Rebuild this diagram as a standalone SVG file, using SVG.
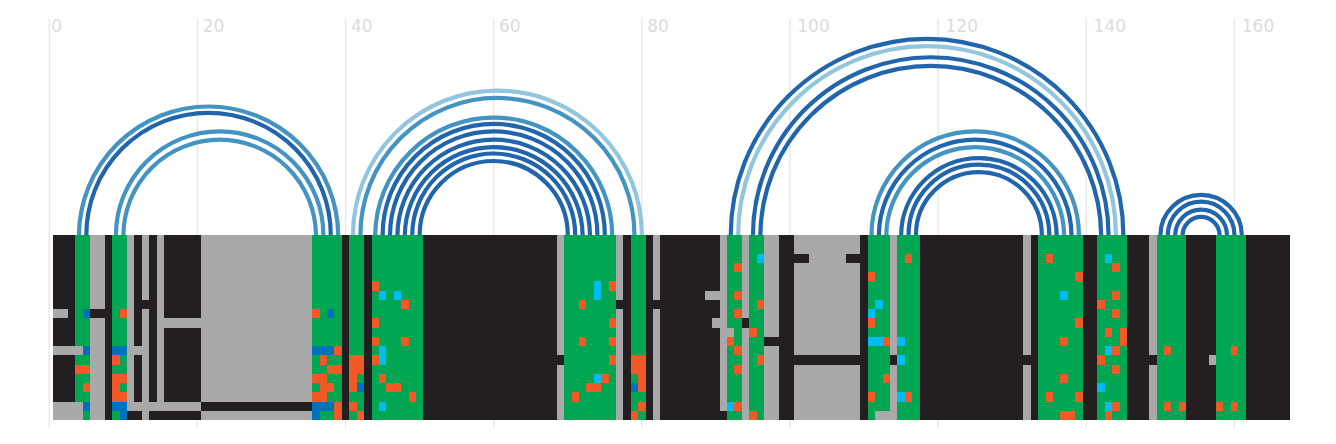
<svg xmlns="http://www.w3.org/2000/svg" width="1336" height="444" viewBox="0 0 1336 444">
<style>
.grid{stroke:#e6e6e6;stroke-width:1.3}
.lbl{font-family:"DejaVu Sans",sans-serif;font-size:17px;fill:#dcdcdc}
.arc{fill:none;stroke-width:4.2}
.d{stroke:#2166ac}.m{stroke:#4393c3}.l{stroke:#92c5de}
.k{fill:#231f20}.g{fill:#a9a9a9}.n{fill:#00a651}.o{fill:#f15a24}.b{fill:#0071bc}.c{fill:#00bcf2}
</style>
<rect width="1336" height="444" fill="#ffffff"/>
<g id="axis">
<line class="grid" x1="49.3" y1="19" x2="49.3" y2="428"/>
<line class="grid" x1="197.44" y1="19" x2="197.44" y2="428"/>
<line class="grid" x1="345.58" y1="19" x2="345.58" y2="428"/>
<line class="grid" x1="493.73" y1="19" x2="493.73" y2="428"/>
<line class="grid" x1="641.87" y1="19" x2="641.87" y2="428"/>
<line class="grid" x1="790.01" y1="19" x2="790.01" y2="428"/>
<line class="grid" x1="938.16" y1="19" x2="938.16" y2="428"/>
<line class="grid" x1="1086.3" y1="19" x2="1086.3" y2="428"/>
<line class="grid" x1="1234.45" y1="19" x2="1234.45" y2="428"/>
<text class="lbl" x="51.3" y="32.3">0</text>
<text class="lbl" x="202.7" y="32.3">20</text>
<text class="lbl" x="350.9" y="32.3">40</text>
<text class="lbl" x="499" y="32.3">60</text>
<text class="lbl" x="647.2" y="32.3">80</text>
<text class="lbl" x="797.3" y="32.3">100</text>
<text class="lbl" x="945.5" y="32.3">120</text>
<text class="lbl" x="1093.6" y="32.3">140</text>
<text class="lbl" x="1241.8" y="32.3">160</text>
</g>
<g id="matrix" transform="translate(53 235) scale(7.40719 9.25)" shape-rendering="crispEdges">
<rect class="k" x="0" y="0" width="167" height="20"/>
<rect class="n" x="3" y="0" width="2" height="20"/>
<rect class="n" x="8" y="0" width="2" height="20"/>
<rect class="n" x="35" y="0" width="4" height="20"/>
<rect class="n" x="40" y="0" width="2" height="20"/>
<rect class="n" x="43" y="0" width="7" height="20"/>
<rect class="n" x="69" y="0" width="7" height="20"/>
<rect class="n" x="78" y="0" width="2" height="20"/>
<rect class="n" x="91" y="0" width="2" height="20"/>
<rect class="n" x="94" y="0" width="2" height="20"/>
<rect class="n" x="110" y="0" width="3" height="20"/>
<rect class="n" x="114" y="0" width="3" height="20"/>
<rect class="n" x="133" y="0" width="6" height="20"/>
<rect class="n" x="141" y="0" width="4" height="20"/>
<rect class="n" x="149" y="0" width="4" height="20"/>
<rect class="n" x="157" y="0" width="4" height="20"/>
<rect class="g" x="5" y="0" width="2" height="20"/>
<rect class="g" x="10" y="0" width="1" height="20"/>
<rect class="g" x="12" y="0" width="1" height="20"/>
<rect class="g" x="14" y="0" width="1" height="20"/>
<rect class="g" x="20" y="0" width="15" height="20"/>
<rect class="g" x="68" y="0" width="1" height="20"/>
<rect class="g" x="76" y="0" width="1" height="20"/>
<rect class="g" x="81" y="0" width="1" height="20"/>
<rect class="g" x="90" y="0" width="1" height="20"/>
<rect class="g" x="93" y="0" width="1" height="20"/>
<rect class="g" x="96" y="0" width="2" height="20"/>
<rect class="g" x="100" y="0" width="9" height="20"/>
<rect class="g" x="113" y="0" width="1" height="20"/>
<rect class="g" x="131" y="0" width="1" height="20"/>
<rect class="g" x="148" y="0" width="1" height="20"/>
<rect class="g" x="0" y="8" width="2" height="1"/>
<rect class="g" x="0" y="12" width="4" height="1"/>
<rect class="g" x="0" y="18" width="4" height="2"/>
<rect class="g" x="11" y="12" width="1" height="1"/>
<rect class="g" x="10" y="18" width="10" height="1"/>
<rect class="g" x="15" y="9" width="5" height="1"/>
<rect class="g" x="88" y="6" width="2" height="1"/>
<rect class="g" x="89" y="9" width="1" height="1"/>
<rect class="g" x="91" y="10" width="1" height="1"/>
<rect class="g" x="111" y="19" width="3" height="1"/>
<rect class="g" x="156" y="13" width="1" height="1"/>
<rect class="k" x="5" y="8" width="2" height="1"/>
<rect class="k" x="12" y="7" width="1" height="1"/>
<rect class="k" x="10" y="19" width="1" height="1"/>
<rect class="k" x="14" y="19" width="1" height="1"/>
<rect class="k" x="20" y="18" width="15" height="1"/>
<rect class="k" x="68" y="13" width="1" height="1"/>
<rect class="k" x="76" y="7" width="1" height="1"/>
<rect class="k" x="81" y="7" width="1" height="1"/>
<rect class="k" x="90" y="19" width="1" height="1"/>
<rect class="k" x="93" y="9" width="1" height="1"/>
<rect class="k" x="96" y="11" width="2" height="1"/>
<rect class="k" x="100" y="2" width="2" height="1"/>
<rect class="k" x="107" y="2" width="2" height="1"/>
<rect class="k" x="100" y="13" width="9" height="1"/>
<rect class="k" x="113" y="13" width="1" height="1"/>
<rect class="k" x="131" y="13" width="1" height="1"/>
<rect class="k" x="148" y="13" width="1" height="1"/>
<rect class="b" x="4" y="8" width="1" height="1"/>
<rect class="b" x="4" y="12" width="1" height="1"/>
<rect class="b" x="4" y="18" width="1" height="1"/>
<rect class="b" x="8" y="12" width="2" height="1"/>
<rect class="b" x="8" y="18" width="2" height="1"/>
<rect class="b" x="9" y="19" width="1" height="1"/>
<rect class="b" x="35" y="12" width="3" height="1"/>
<rect class="b" x="35" y="18" width="3" height="1"/>
<rect class="b" x="35" y="19" width="1" height="1"/>
<rect class="b" x="37" y="8" width="1" height="1"/>
<rect class="b" x="41" y="16" width="1" height="1"/>
<rect class="b" x="78" y="16" width="1" height="1"/>
<rect class="c" x="44" y="6" width="1" height="1"/>
<rect class="c" x="46" y="6" width="1" height="1"/>
<rect class="c" x="44" y="12" width="1" height="2"/>
<rect class="c" x="44" y="18" width="1" height="1"/>
<rect class="c" x="73" y="5" width="1" height="2"/>
<rect class="c" x="73" y="15" width="1" height="1"/>
<rect class="c" x="91" y="18" width="1" height="1"/>
<rect class="c" x="95" y="2" width="1" height="1"/>
<rect class="c" x="111" y="7" width="1" height="1"/>
<rect class="c" x="110" y="8" width="1" height="1"/>
<rect class="c" x="110" y="11" width="2" height="1"/>
<rect class="c" x="114" y="11" width="1" height="1"/>
<rect class="c" x="114" y="13" width="1" height="1"/>
<rect class="c" x="114" y="17" width="1" height="1"/>
<rect class="c" x="136" y="6" width="1" height="1"/>
<rect class="c" x="142" y="2" width="1" height="1"/>
<rect class="c" x="142" y="12" width="1" height="1"/>
<rect class="c" x="141" y="16" width="1" height="1"/>
<rect class="c" x="142" y="18" width="1" height="1"/>
<rect class="o" x="3" y="14" width="2" height="1"/>
<rect class="o" x="4" y="16" width="1" height="1"/>
<rect class="o" x="9" y="8" width="1" height="1"/>
<rect class="o" x="8" y="13" width="1" height="1"/>
<rect class="o" x="8" y="15" width="2" height="1"/>
<rect class="o" x="8" y="16" width="1" height="1"/>
<rect class="o" x="8" y="17" width="2" height="1"/>
<rect class="o" x="35" y="8" width="1" height="1"/>
<rect class="o" x="38" y="12" width="1" height="1"/>
<rect class="o" x="36" y="13" width="1" height="1"/>
<rect class="o" x="37" y="14" width="2" height="1"/>
<rect class="o" x="35" y="15" width="2" height="1"/>
<rect class="o" x="36" y="16" width="2" height="1"/>
<rect class="o" x="35" y="17" width="2" height="1"/>
<rect class="o" x="38" y="18" width="1" height="2"/>
<rect class="o" x="40" y="13" width="2" height="2"/>
<rect class="o" x="40" y="15" width="1" height="2"/>
<rect class="o" x="40" y="18" width="1" height="1"/>
<rect class="o" x="41" y="19" width="1" height="1"/>
<rect class="o" x="43" y="5" width="1" height="1"/>
<rect class="o" x="47" y="7" width="1" height="1"/>
<rect class="o" x="43" y="9" width="1" height="1"/>
<rect class="o" x="43" y="11" width="1" height="1"/>
<rect class="o" x="47" y="11" width="1" height="1"/>
<rect class="o" x="43" y="13" width="1" height="1"/>
<rect class="o" x="44" y="15" width="1" height="1"/>
<rect class="o" x="45" y="16" width="2" height="1"/>
<rect class="o" x="48" y="17" width="1" height="1"/>
<rect class="o" x="75" y="5" width="1" height="1"/>
<rect class="o" x="71" y="7" width="1" height="1"/>
<rect class="o" x="75" y="9" width="1" height="1"/>
<rect class="o" x="71" y="11" width="1" height="1"/>
<rect class="o" x="75" y="11" width="1" height="1"/>
<rect class="o" x="75" y="13" width="1" height="1"/>
<rect class="o" x="74" y="15" width="1" height="1"/>
<rect class="o" x="72" y="16" width="2" height="1"/>
<rect class="o" x="70" y="17" width="1" height="1"/>
<rect class="o" x="78" y="13" width="2" height="2"/>
<rect class="o" x="79" y="15" width="1" height="2"/>
<rect class="o" x="79" y="18" width="1" height="1"/>
<rect class="o" x="78" y="19" width="1" height="1"/>
<rect class="o" x="92" y="3" width="1" height="1"/>
<rect class="o" x="92" y="6" width="1" height="1"/>
<rect class="o" x="92" y="8" width="1" height="1"/>
<rect class="o" x="92" y="12" width="1" height="1"/>
<rect class="o" x="92" y="14" width="1" height="1"/>
<rect class="o" x="92" y="18" width="1" height="1"/>
<rect class="o" x="91" y="11" width="1" height="1"/>
<rect class="o" x="95" y="7" width="1" height="1"/>
<rect class="o" x="94" y="10" width="1" height="1"/>
<rect class="o" x="95" y="13" width="1" height="1"/>
<rect class="o" x="94" y="19" width="1" height="1"/>
<rect class="o" x="115" y="2" width="1" height="1"/>
<rect class="o" x="110" y="4" width="1" height="1"/>
<rect class="o" x="110" y="9" width="1" height="1"/>
<rect class="o" x="112" y="11" width="1" height="1"/>
<rect class="o" x="112" y="15" width="1" height="1"/>
<rect class="o" x="110" y="17" width="1" height="1"/>
<rect class="o" x="115" y="17" width="1" height="1"/>
<rect class="o" x="134" y="2" width="1" height="1"/>
<rect class="o" x="138" y="4" width="1" height="1"/>
<rect class="o" x="138" y="9" width="1" height="1"/>
<rect class="o" x="136" y="11" width="1" height="1"/>
<rect class="o" x="136" y="15" width="1" height="1"/>
<rect class="o" x="134" y="17" width="1" height="1"/>
<rect class="o" x="138" y="17" width="1" height="1"/>
<rect class="o" x="136" y="19" width="2" height="1"/>
<rect class="o" x="143" y="3" width="1" height="1"/>
<rect class="o" x="143" y="6" width="1" height="1"/>
<rect class="o" x="141" y="7" width="1" height="1"/>
<rect class="o" x="143" y="8" width="1" height="1"/>
<rect class="o" x="142" y="10" width="1" height="1"/>
<rect class="o" x="144" y="10" width="1" height="2"/>
<rect class="o" x="143" y="12" width="1" height="1"/>
<rect class="o" x="141" y="13" width="1" height="1"/>
<rect class="o" x="143" y="14" width="1" height="1"/>
<rect class="o" x="143" y="18" width="1" height="1"/>
<rect class="o" x="142" y="19" width="1" height="1"/>
<rect class="o" x="150" y="12" width="1" height="1"/>
<rect class="o" x="150" y="18" width="1" height="1"/>
<rect class="o" x="152" y="18" width="1" height="1"/>
<rect class="o" x="159" y="12" width="1" height="1"/>
<rect class="o" x="157" y="18" width="1" height="1"/>
<rect class="o" x="159" y="18" width="1" height="1"/>
</g>
<g id="arcs">
<path class="arc m" d="M78.93 235A129.63 129.63 0 0 1 338.18 235"/>
<path class="arc d" d="M86.33 235A122.22 122.22 0 0 1 330.77 235"/>
<path class="arc m" d="M115.96 235A103.70 103.70 0 0 1 323.36 235"/>
<path class="arc m" d="M123.37 235A96.30 96.30 0 0 1 315.96 235"/>
<path class="arc l" d="M352.99 235A144.44 144.44 0 0 1 641.87 235"/>
<path class="arc m" d="M360.40 235A137.03 137.03 0 0 1 634.46 235"/>
<path class="arc m" d="M375.21 235A118.52 118.52 0 0 1 612.24 235"/>
<path class="arc d" d="M382.62 235A111.11 111.11 0 0 1 604.84 235"/>
<path class="arc d" d="M390.03 235A103.70 103.70 0 0 1 597.43 235"/>
<path class="arc d" d="M397.43 235A96.30 96.30 0 0 1 590.02 235"/>
<path class="arc d" d="M404.84 235A88.89 88.89 0 0 1 582.61 235"/>
<path class="arc d" d="M412.25 235A81.48 81.48 0 0 1 575.21 235"/>
<path class="arc d" d="M419.66 235A74.07 74.07 0 0 1 567.80 235"/>
<path class="arc d" d="M730.76 235A196.29 196.29 0 0 1 1123.34 235"/>
<path class="arc l" d="M738.17 235A188.88 188.88 0 0 1 1115.93 235"/>
<path class="arc d" d="M752.98 235A177.77 177.77 0 0 1 1108.52 235"/>
<path class="arc d" d="M760.39 235A170.37 170.37 0 0 1 1101.12 235"/>
<path class="arc m" d="M871.49 235A103.70 103.70 0 0 1 1078.90 235"/>
<path class="arc d" d="M878.90 235A96.30 96.30 0 0 1 1071.49 235"/>
<path class="arc m" d="M886.31 235A88.89 88.89 0 0 1 1064.08 235"/>
<path class="arc d" d="M901.12 235A77.78 77.78 0 0 1 1056.67 235"/>
<path class="arc d" d="M908.53 235A70.37 70.37 0 0 1 1049.27 235"/>
<path class="arc d" d="M915.94 235A62.96 62.96 0 0 1 1041.86 235"/>
<path class="arc d" d="M1160.38 235A40.74 40.74 0 0 1 1241.85 235"/>
<path class="arc d" d="M1167.78 235A33.33 33.33 0 0 1 1234.45 235"/>
<path class="arc d" d="M1175.19 235A25.93 25.93 0 0 1 1227.04 235"/>
<path class="arc d" d="M1182.60 235A18.52 18.52 0 0 1 1219.63 235"/>
</g>
</svg>
